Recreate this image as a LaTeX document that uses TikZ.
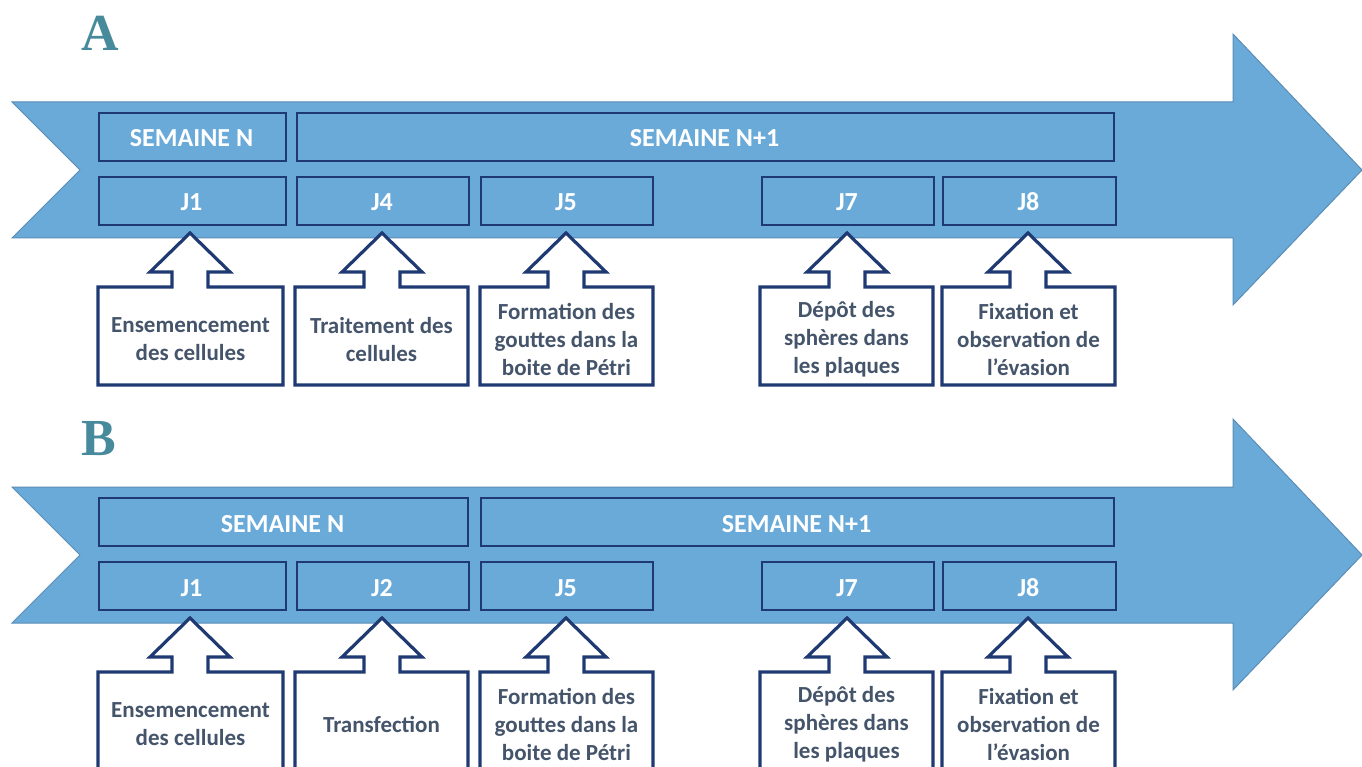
\documentclass[tikz,border=0pt]{standalone}
\usepackage{fontspec}
\setmainfont{Carlito}
\newfontfamily\letterfont{Liberation Serif}
\definecolor{arrfill}{HTML}{6AAAD9}
\definecolor{arrline}{HTML}{5B8DB5}
\definecolor{navy}{HTML}{1F3A73}
\definecolor{slate}{HTML}{44546A}
\definecolor{teal}{HTML}{468A9C}
\tikzset{
  bigarrow/.style={fill=arrfill,draw=arrline,line width=1pt},
  daybox/.style={draw=navy,line width=1.8pt,fill=arrfill,inner sep=0pt,anchor=north west},
  daytext/.style={text=white,font=\fontsize{26}{30}\selectfont\bfseries,inner sep=0pt},
  callout/.style={draw=navy,fill=white,line width=3.2pt,line join=miter},
  ctext/.style={text=slate,font=\fontsize{23}{28}\selectfont\bfseries,align=center,inner sep=0pt},
  letter/.style={text=teal,font=\fontsize{52}{52}\selectfont\letterfont\bfseries,inner sep=0pt,anchor=base west}
}
\newcommand\mkbox[6]{% name, x1, y1, x2, y2, text
  \node[daybox,minimum width={#4-#2},minimum height={#5-#3}] (#1) at (#2,#3) {};
  \node[daytext,anchor=base] (#1t) at ({(#2+#4)/2},{(#3+#5)/2+11}) {#6};}
\newcommand\mkcallout[6]{% name, cx, left, right, yoff, text
  \draw[callout] ({#3},{287+#5}) -- ({#2-18},{287+#5}) -- ({#2-18},{272+#5}) -- ({#2-40},{272+#5})
    -- ({#2},{233+#5}) -- ({#2+40},{272+#5}) -- ({#2+18},{272+#5}) -- ({#2+18},{287+#5})
    -- ({#4},{287+#5}) -- ({#4},{385+#5}) -- ({#3},{385+#5}) -- cycle;
  \node[ctext] (#1) at ({(#3+#4)/2},{339.5+#5}) {#6};}
\newcommand\mkbigarrow[1]{%
  \draw[bigarrow] (12,{102+#1}) -- (1233,{102+#1}) -- (1233,{34+#1}) -- (1362,{170+#1})
    -- (1233,{305+#1}) -- (1233,{238+#1}) -- (12,{238+#1}) -- (80,{170+#1}) -- cycle;}
\begin{document}
\begin{tikzpicture}[x=1pt,y=-1pt]
\useasboundingbox (0,0) rectangle (1362,767);
\clip (0,0) rectangle (1362,767);
% ---------- A ----------
\node[letter] (la) at (81,51) {A};
\mkbigarrow{0}
\mkbox{aSN}{98}{112}{285}{160}{SEMAINE N}
\mkbox{aSN1}{296}{112}{1113}{160}{SEMAINE N+1}
\mkbox{aJ1}{98}{176}{285}{224}{J1}
\mkbox{aJ4}{296}{176}{468}{224}{J4}
\mkbox{aJ5}{480}{176}{652}{224}{J5}
\mkbox{aJ7}{761}{176}{933}{224}{J7}
\mkbox{aJ8}{942}{176}{1115}{224}{J8}
\mkcallout{aC1}{190}{98}{283}{0}{Ensemencement\\des cellules}
\mkcallout{aC4}{382}{295}{468}{0}{Traitement des\\cellules}
\mkcallout{aC5}{566}{480}{653}{0}{Formation des\\gouttes dans la\\boite de Pétri}
\mkcallout{aC7}{847}{760}{933}{0}{Dépôt des\\sphères dans\\les plaques}
\mkcallout{aC8}{1028}{942}{1115}{0}{Fixation et\\observation de\\l’évasion}
% ---------- B ----------
\node[letter] (lb) at (81,455) {B};
\mkbigarrow{385}
\mkbox{bSN}{98}{497}{467}{545}{SEMAINE N}
\mkbox{bSN1}{480}{497}{1113}{545}{SEMAINE N+1}
\mkbox{bJ1}{98}{561}{285}{609}{J1}
\mkbox{bJ2}{296}{561}{468}{609}{J2}
\mkbox{bJ5}{480}{561}{652}{609}{J5}
\mkbox{bJ7}{761}{561}{933}{609}{J7}
\mkbox{bJ8}{942}{561}{1115}{609}{J8}
\mkcallout{bC1}{190}{98}{283}{385}{Ensemencement\\des cellules}
\mkcallout{bC2}{382}{295}{468}{385}{Transfection}
\mkcallout{bC5}{566}{480}{653}{385}{Formation des\\gouttes dans la\\boite de Pétri}
\mkcallout{bC7}{847}{760}{933}{385}{Dépôt des\\sphères dans\\les plaques}
\mkcallout{bC8}{1028}{942}{1115}{385}{Fixation et\\observation de\\l’évasion}
\end{tikzpicture}
\end{document}
